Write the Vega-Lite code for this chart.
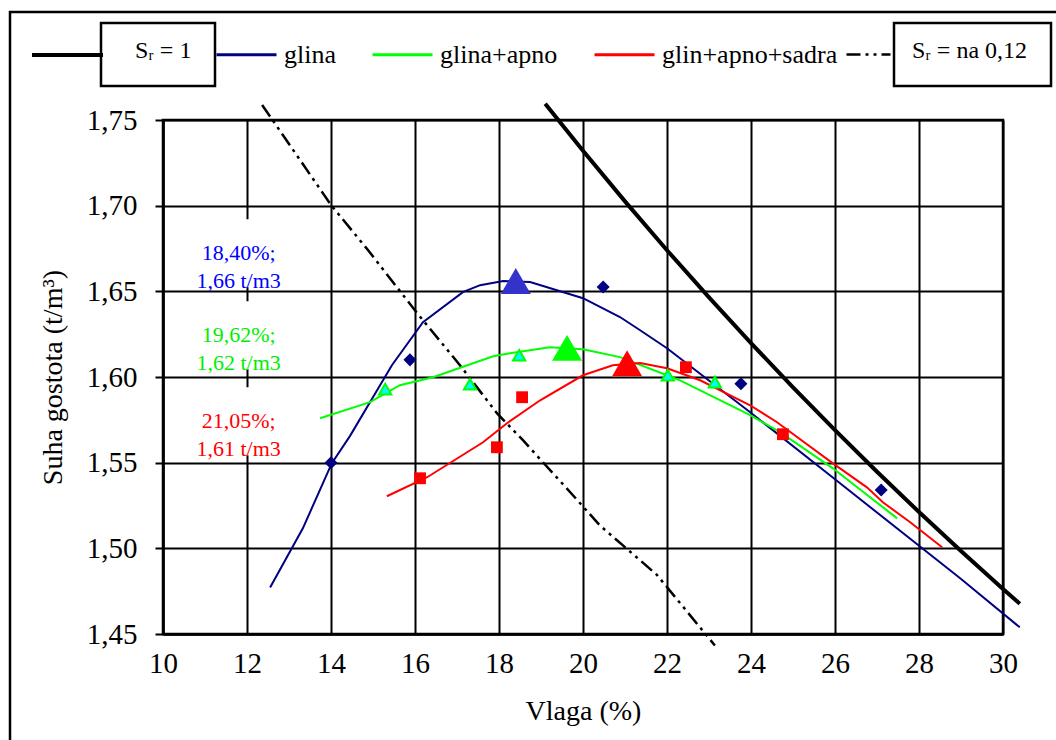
{
  "$schema": "https://vega.github.io/schema/vega-lite/v6.json",
  "width": 840,
  "height": 514,
  "autosize": {"type": "none"},
  "padding": {"left": 163, "top": 120, "right": 53, "bottom": 106},
  "background": "white",
  "datasets": {
    "krivulje": [
      {"serija": "Sᵣ = 1", "vlaga": 19.1, "gostota": 1.7595},
      {"serija": "Sᵣ = 1", "vlaga": 20, "gostota": 1.732},
      {"serija": "Sᵣ = 1", "vlaga": 21, "gostota": 1.7025},
      {"serija": "Sᵣ = 1", "vlaga": 22, "gostota": 1.674},
      {"serija": "Sᵣ = 1", "vlaga": 23, "gostota": 1.6465},
      {"serija": "Sᵣ = 1", "vlaga": 24, "gostota": 1.6198},
      {"serija": "Sᵣ = 1", "vlaga": 25, "gostota": 1.594},
      {"serija": "Sᵣ = 1", "vlaga": 26, "gostota": 1.569},
      {"serija": "Sᵣ = 1", "vlaga": 27, "gostota": 1.5447},
      {"serija": "Sᵣ = 1", "vlaga": 28, "gostota": 1.5212},
      {"serija": "Sᵣ = 1", "vlaga": 29, "gostota": 1.4984},
      {"serija": "Sᵣ = 1", "vlaga": 30, "gostota": 1.4763},
      {"serija": "Sᵣ = 1", "vlaga": 30.4, "gostota": 1.4677},
      {"serija": "Sᵣ = na 0,12", "vlaga": 12.36, "gostota": 1.7588},
      {"serija": "Sᵣ = na 0,12", "vlaga": 14.0, "gostota": 1.7004},
      {"serija": "Sᵣ = na 0,12", "vlaga": 14.88, "gostota": 1.6741},
      {"serija": "Sᵣ = na 0,12", "vlaga": 16.05, "gostota": 1.6373},
      {"serija": "Sᵣ = na 0,12", "vlaga": 17.07, "gostota": 1.6069},
      {"serija": "Sᵣ = na 0,12", "vlaga": 17.95, "gostota": 1.5789},
      {"serija": "Sᵣ = na 0,12", "vlaga": 18.57, "gostota": 1.5631},
      {"serija": "Sᵣ = na 0,12", "vlaga": 19.76, "gostota": 1.531},
      {"serija": "Sᵣ = na 0,12", "vlaga": 20.4, "gostota": 1.5134},
      {"serija": "Sᵣ = na 0,12", "vlaga": 21.76, "gostota": 1.4845},
      {"serija": "Sᵣ = na 0,12", "vlaga": 23.14, "gostota": 1.4433},
      {"serija": "glina", "vlaga": 12.55, "gostota": 1.4772},
      {"serija": "glina", "vlaga": 13.33, "gostota": 1.5117},
      {"serija": "glina", "vlaga": 14.02, "gostota": 1.5497},
      {"serija": "glina", "vlaga": 14.45, "gostota": 1.5655},
      {"serija": "glina", "vlaga": 15.45, "gostota": 1.6069},
      {"serija": "glina", "vlaga": 16.19, "gostota": 1.632},
      {"serija": "glina", "vlaga": 17.14, "gostota": 1.6495},
      {"serija": "glina", "vlaga": 17.55, "gostota": 1.6536},
      {"serija": "glina", "vlaga": 18.1, "gostota": 1.656},
      {"serija": "glina", "vlaga": 18.74, "gostota": 1.6554},
      {"serija": "glina", "vlaga": 20.0, "gostota": 1.646},
      {"serija": "glina", "vlaga": 20.88, "gostota": 1.635},
      {"serija": "glina", "vlaga": 21.36, "gostota": 1.6273},
      {"serija": "glina", "vlaga": 22.0, "gostota": 1.6168},
      {"serija": "glina", "vlaga": 23.98, "gostota": 1.5794},
      {"serija": "glina", "vlaga": 26.0, "gostota": 1.5403},
      {"serija": "glina", "vlaga": 28.98, "gostota": 1.4825},
      {"serija": "glina", "vlaga": 30.4, "gostota": 1.4539},
      {"serija": "glina+apno", "vlaga": 13.74, "gostota": 1.5759},
      {"serija": "glina+apno", "vlaga": 14.93, "gostota": 1.5853},
      {"serija": "glina+apno", "vlaga": 15.64, "gostota": 1.5952},
      {"serija": "glina+apno", "vlaga": 16.43, "gostota": 1.5999},
      {"serija": "glina+apno", "vlaga": 17.86, "gostota": 1.6121},
      {"serija": "glina+apno", "vlaga": 18.26, "gostota": 1.6139},
      {"serija": "glina+apno", "vlaga": 19.21, "gostota": 1.6174},
      {"serija": "glina+apno", "vlaga": 20.0, "gostota": 1.6162},
      {"serija": "glina+apno", "vlaga": 20.88, "gostota": 1.6116},
      {"serija": "glina+apno", "vlaga": 22.0, "gostota": 1.601},
      {"serija": "glina+apno", "vlaga": 22.31, "gostota": 1.598},
      {"serija": "glina+apno", "vlaga": 23.98, "gostota": 1.5777},
      {"serija": "glina+apno", "vlaga": 24.69, "gostota": 1.5678},
      {"serija": "glina+apno", "vlaga": 25.95, "gostota": 1.5467},
      {"serija": "glina+apno", "vlaga": 27.48, "gostota": 1.5175},
      {"serija": "glin+apno+sadra", "vlaga": 15.33, "gostota": 1.5304},
      {"serija": "glin+apno+sadra", "vlaga": 16.29, "gostota": 1.5415},
      {"serija": "glin+apno+sadra", "vlaga": 17.62, "gostota": 1.5619},
      {"serija": "glin+apno+sadra", "vlaga": 18.19, "gostota": 1.573},
      {"serija": "glin+apno+sadra", "vlaga": 18.98, "gostota": 1.5864},
      {"serija": "glin+apno+sadra", "vlaga": 20.0, "gostota": 1.601},
      {"serija": "glin+apno+sadra", "vlaga": 20.71, "gostota": 1.6069},
      {"serija": "glin+apno+sadra", "vlaga": 21.36, "gostota": 1.6081},
      {"serija": "glin+apno+sadra", "vlaga": 22.0, "gostota": 1.6051},
      {"serija": "glin+apno+sadra", "vlaga": 22.79, "gostota": 1.5981},
      {"serija": "glin+apno+sadra", "vlaga": 23.98, "gostota": 1.5835},
      {"serija": "glin+apno+sadra", "vlaga": 24.62, "gostota": 1.5736},
      {"serija": "glin+apno+sadra", "vlaga": 25.95, "gostota": 1.5496},
      {"serija": "glin+apno+sadra", "vlaga": 26.76, "gostota": 1.5356},
      {"serija": "glin+apno+sadra", "vlaga": 27.14, "gostota": 1.5269},
      {"serija": "glin+apno+sadra", "vlaga": 27.79, "gostota": 1.5152},
      {"serija": "glin+apno+sadra", "vlaga": 28.55, "gostota": 1.5006}
    ],
    "meritve": [
      {"serija": "glina", "vlaga": 14.0, "gostota": 1.55},
      {"serija": "glina", "vlaga": 15.88, "gostota": 1.61},
      {"serija": "glina", "vlaga": 20.48, "gostota": 1.6525},
      {"serija": "glina", "vlaga": 23.76, "gostota": 1.596},
      {"serija": "glina", "vlaga": 27.1, "gostota": 1.534},
      {"serija": "glina+apno", "vlaga": 15.29, "gostota": 1.5929},
      {"serija": "glina+apno", "vlaga": 17.31, "gostota": 1.5958},
      {"serija": "glina+apno", "vlaga": 18.48, "gostota": 1.6127},
      {"serija": "glina+apno", "vlaga": 22.02, "gostota": 1.601},
      {"serija": "glina+apno", "vlaga": 23.14, "gostota": 1.597},
      {"serija": "glin+apno+sadra", "vlaga": 16.12, "gostota": 1.5409},
      {"serija": "glin+apno+sadra", "vlaga": 17.95, "gostota": 1.559},
      {"serija": "glin+apno+sadra", "vlaga": 18.55, "gostota": 1.5882},
      {"serija": "glin+apno+sadra", "vlaga": 22.45, "gostota": 1.6057},
      {"serija": "glin+apno+sadra", "vlaga": 24.76, "gostota": 1.5666}
    ],
    "optimumi": [
      {"serija": "glina", "vlaga": 18.4, "gostota": 1.656},
      {"serija": "glina+apno", "vlaga": 19.62, "gostota": 1.617},
      {"serija": "glin+apno+sadra", "vlaga": 21.05, "gostota": 1.608}
    ],
    "oznake": [
      {"serija": "glina", "vlaga": 11.8, "gostota": 1.6723, "oznaka": "18,40%;\n1,66 t/m3"},
      {"serija": "glina+apno", "vlaga": 11.8, "gostota": 1.6244, "oznaka": "19,62%;\n1,62 t/m3"},
      {"serija": "glin+apno+sadra", "vlaga": 11.8, "gostota": 1.5742, "oznaka": "21,05%;\n1,61 t/m3"}
    ]
  },
  "encoding": {
    "x": {
      "field": "vlaga", "type": "quantitative",
      "scale": {"domain": [10, 30], "nice": false, "zero": false},
      "axis": {
        "title": "Vlaga (%)",
        "values": [10, 12, 14, 16, 18, 20, 22, 24, 26, 28, 30],
        "grid": true, "gridColor": "black", "gridWidth": 2, "gridOpacity": 1,
        "domainColor": "black", "domainWidth": 2.5,
        "ticks": false, "tickSize": 0,
        "labelFont": "Liberation Serif", "labelFontSize": 29, "labelColor": "black", "labelPadding": 15,
        "labelFlush": false, "labelOverlap": false,
        "titleFont": "Liberation Serif", "titleFontSize": 28, "titleFontWeight": "normal", "titleColor": "black", "titlePadding": 19
      }
    },
    "y": {
      "field": "gostota", "type": "quantitative",
      "scale": {"domain": [1.45, 1.75], "nice": false, "zero": false},
      "axis": {
        "title": "Suha gostota (t/m³)",
        "values": [1.45, 1.5, 1.55, 1.6, 1.65, 1.7, 1.75],
        "labelExpr": "replace(format(datum.value, '.2f'), '.', ',')",
        "grid": true, "gridColor": "black", "gridWidth": 2, "gridOpacity": 1,
        "domainColor": "black", "domainWidth": 2.5,
        "ticks": true, "tickSize": 8, "tickColor": "black", "tickWidth": 2,
        "labelFont": "Liberation Serif", "labelFontSize": 29, "labelColor": "black", "labelPadding": 18,
        "labelFlush": false, "labelOverlap": false,
        "titleFont": "Liberation Serif", "titleFontSize": 28, "titleFontWeight": "normal", "titleColor": "black", "titlePadding": 19
      }
    }
  },
  "resolve": {
    "scale": {"opacity": "independent"},
    "legend": {"opacity": "independent"}
  },
  "layer": [
    {
      "data": {"name": "oznake"},
      "mark": {"type": "rect", "width": 112, "height": 68, "fill": "white"}
    },
    {
      "data": {"name": "krivulje"},
      "transform": [{"filter": "datum.serija == 'Sᵣ = 1'"}],
      "mark": {"type": "line", "color": "black"},
      "encoding": {
        "strokeWidth": {
          "field": "serija", "type": "ordinal",
          "scale": {"domain": ["Sᵣ = 1"], "range": [4, 4]},
          "legend": {"orient": "none", "legendX": -133, "legendY": -102.5, "title": null, "labelExpr": "''",
            "symbolType": "stroke", "symbolSize": 5041, "symbolStrokeColor": "black", "padding": 0, "labelOffset": 0}
        },
        "opacity": {
          "field": "serija", "type": "ordinal",
          "scale": {"range": [1, 1]},
          "legend": {"orient": "none", "legendX": -62, "legendY": -97, "title": null,
            "symbolSize": 1, "symbolOpacity": 0, "symbolStrokeWidth": 0, "symbolStrokeColor": "transparent", "symbolFillColor": "transparent",
            "padding": 23, "labelOffset": -13, "strokeColor": "black", "labelFontSize": 24, "labelBaseline": "alphabetic"}
        }
      }
    },
    {
      "data": {"name": "krivulje"},
      "transform": [{"filter": "datum.serija == 'Sᵣ = na 0,12'"}],
      "mark": {"type": "line", "color": "black", "strokeWidth": 2.5},
      "encoding": {
        "strokeDash": {
          "field": "serija", "type": "nominal",
          "scale": {"domain": ["Sᵣ = na 0,12"], "range": [[14, 5, 3, 5, 3, 5]]},
          "legend": {"orient": "none", "legendX": 682, "legendY": -89, "title": null, "labelExpr": "''",
            "symbolType": "stroke", "symbolSize": 1936, "symbolStrokeColor": "black", "symbolStrokeWidth": 2.5, "padding": 0, "labelOffset": 0}
        },
        "opacity": {
          "field": "serija", "type": "ordinal",
          "scale": {"range": [1, 1]},
          "legend": {"orient": "none", "legendX": 731, "legendY": -97, "title": null,
            "symbolSize": 1, "symbolOpacity": 0, "symbolStrokeWidth": 0, "symbolStrokeColor": "transparent", "symbolFillColor": "transparent",
            "padding": 23, "labelOffset": -29, "strokeColor": "black", "labelFontSize": 24, "labelBaseline": "alphabetic",
            "labelExpr": "datum.label + '                    '"}
        }
      }
    },
    {
      "data": {"name": "krivulje"},
      "transform": [{"filter": {"field": "serija", "oneOf": ["glina", "glina+apno", "glin+apno+sadra"]}}],
      "mark": {"type": "line", "strokeWidth": 2},
      "encoding": {
        "color": {
          "field": "serija", "type": "nominal",
          "scale": {"domain": ["glina", "glina+apno", "glin+apno+sadra"], "range": ["#000080", "#00FF00", "#FF0000"]},
          "legend": {"orient": "none", "legendX": 52, "legendY": -97, "direction": "horizontal", "title": null,
            "symbolType": "stroke", "symbolSize": 3600, "symbolStrokeWidth": 3, "labelOffset": 6, "columnPadding": 30, "padding": 0}
        }
      }
    },
    {
      "data": {"name": "meritve"},
      "transform": [{"filter": "datum.serija == 'glina'"}],
      "mark": {"type": "point", "filled": true, "fill": "#000080", "opacity": 1, "size": 170},
      "encoding": {
        "shape": {
          "field": "serija", "type": "nominal",
          "scale": {"domain": ["glina"], "range": ["diamond"]},
          "legend": {"orient": "none", "legendX": -153, "legendY": -108, "title": null, "labelExpr": "''",
            "symbolSize": 1440000, "symbolOpacity": 0, "symbolStrokeWidth": 0, "padding": 0, "strokeColor": "black"}
        }
      }
    },
    {
      "data": {"name": "meritve"},
      "transform": [{"filter": "datum.serija == 'glina+apno'"}],
      "mark": {"type": "point", "shape": "triangle-up", "filled": true, "fill": "#00FFFF", "stroke": "#00FF00", "strokeWidth": 2, "opacity": 1, "size": 150}
    },
    {
      "data": {"name": "meritve"},
      "transform": [{"filter": "datum.serija == 'glin+apno+sadra'"}],
      "mark": {"type": "point", "shape": "square", "filled": true, "fill": "#FF0000", "opacity": 1, "size": 140}
    },
    {
      "data": {"name": "optimumi"},
      "transform": [{"filter": "datum.serija == 'glina'"}],
      "mark": {"type": "point", "shape": "triangle-up", "filled": true, "fill": "#3333CC", "opacity": 1, "size": 900}
    },
    {
      "data": {"name": "optimumi"},
      "transform": [{"filter": "datum.serija == 'glina+apno'"}],
      "mark": {"type": "point", "shape": "triangle-up", "filled": true, "fill": "#00FF00", "opacity": 1, "size": 900}
    },
    {
      "data": {"name": "optimumi"},
      "transform": [{"filter": "datum.serija == 'glin+apno+sadra'"}],
      "mark": {"type": "point", "shape": "triangle-up", "filled": true, "fill": "#FF0000", "opacity": 1, "size": 900}
    },
    {
      "data": {"name": "oznake"},
      "mark": {"type": "text", "font": "Liberation Serif", "fontSize": 22, "lineBreak": "\n", "lineHeight": 28, "align": "center", "baseline": "middle"},
      "encoding": {
        "text": {"field": "oznaka"},
        "fill": {
          "field": "serija", "type": "nominal",
          "scale": {"domain": ["glina", "glina+apno", "glin+apno+sadra"], "range": ["#0000FF", "#00EE00", "#FF0000"]},
          "legend": null
        }
      }
    }
  ],
  "config": {
    "font": "Liberation Serif",
    "view": {"stroke": "black", "strokeWidth": 2.5},
    "legend": {"labelFont": "Liberation Serif", "labelFontSize": 26, "labelColor": "black", "strokeWidth": 2.5, "labelLimit": 0}
  }
}
